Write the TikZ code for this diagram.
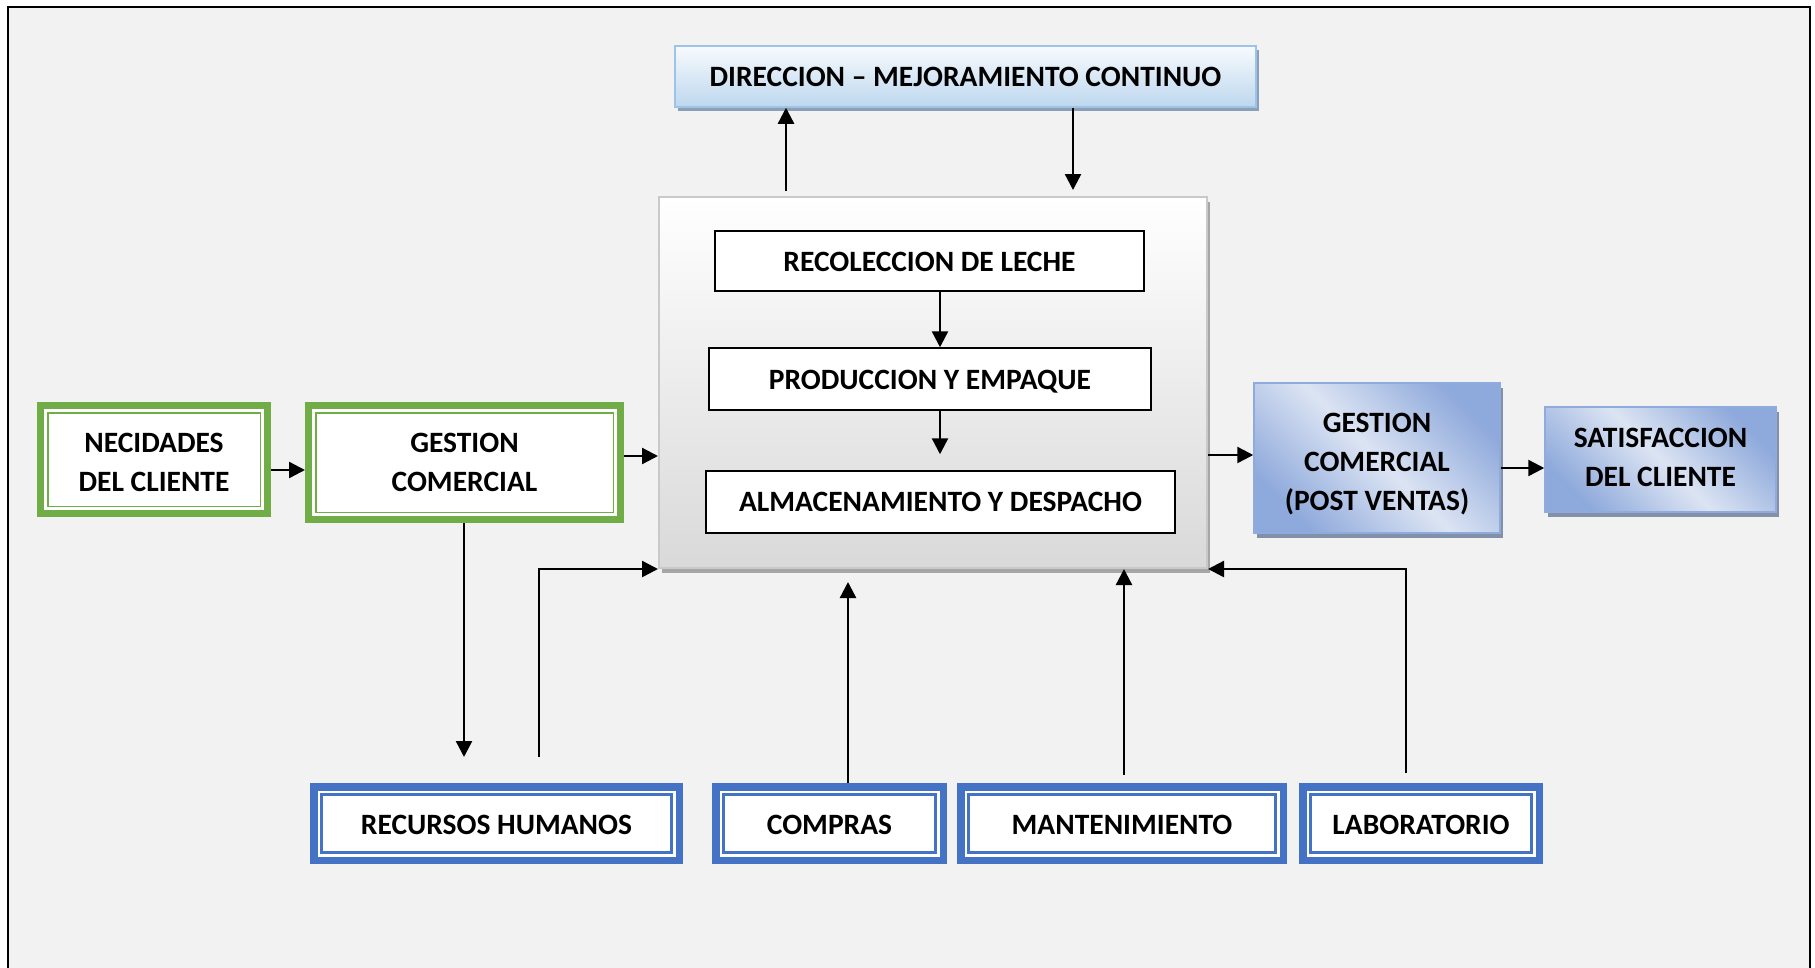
\documentclass[tikz,border=0pt]{standalone}
\usepackage{fontspec}
\setmainfont{Carlito}
\usetikzlibrary{arrows.meta,shadows}

\definecolor{frameBg}{HTML}{F2F2F2}
\definecolor{gC}{HTML}{70AD47}
\definecolor{bC}{HTML}{4472C4}
\definecolor{dirTop}{HTML}{F7FAFD}
\definecolor{dirBot}{HTML}{BDD7EE}
\definecolor{dirLine}{HTML}{9DC3E6}
\definecolor{dirShadow}{HTML}{8C9FB8}
\definecolor{coreBot}{HTML}{D9D9D9}
\definecolor{coreLine}{HTML}{C9C9C9}
\definecolor{coreShadow}{HTML}{A6A6A6}
\definecolor{postLight}{HTML}{DCE4F3}
\definecolor{postDark}{HTML}{8EA9DB}
\definecolor{postLine}{HTML}{8FAADC}
\definecolor{postShadow}{HTML}{8391A8}

% light band along the main diagonal, darker towards two corners
\pgfdeclarehorizontalshading{postband}{100bp}{color(0bp)=(postDark); color(25bp)=(postDark); color(50bp)=(postLight); color(75bp)=(postDark); color(100bp)=(postDark)}

\tikzset{
  lbl/.style={font=\fontsize{29.5}{39}\selectfont\bfseries, align=center, inner sep=0pt},
  % places the last baseline #1/2 below the node centre
  tbase/.style={text height=#1, text depth=0pt},
  greenbox/.style={lbl, fill=white, draw=gC, line width=7pt,
    path picture={\draw[gC, line width=1.5pt]
      ([shift={(7.25pt,-7.25pt)}]path picture bounding box.north west) rectangle
      ([shift={(-7.25pt,7.25pt)}]path picture bounding box.south east);}},
  bluebox/.style={lbl, tbase=22pt, fill=white, draw=bC, line width=7.5pt,
    path picture={\draw[bC, line width=2.5pt]
      ([shift={(7.6pt,-7.6pt)}]path picture bounding box.north west) rectangle
      ([shift={(-7.6pt,7.6pt)}]path picture bounding box.south east);}},
  dirbox/.style={lbl, draw=dirLine, line width=1.5pt, top color=dirTop, bottom color=dirBot,
    general shadow={fill=dirShadow, shadow xshift=3pt, shadow yshift=-4pt}},
  corebox/.style={draw=coreLine, line width=2pt, top color=white, bottom color=coreBot,
    general shadow={fill=coreShadow, shadow xshift=3pt, shadow yshift=-5pt}},
  procbox/.style={lbl, fill=white, draw=black, line width=1.5pt},
  postbox/.style={lbl, draw=postLine, line width=1.5pt, shading=postband, shading angle=45,
    general shadow={fill=postShadow, shadow xshift=3pt, shadow yshift=-5pt}},
  arr/.style={-{Triangle[length=16pt,width=16pt]}, line width=2.4pt, black},
}

\begin{document}
\begin{tikzpicture}[x=1pt,y=-1pt]
\useasboundingbox (0,0) rectangle (1815,967);
% page frame
\fill[frameBg] (8,7) rectangle (1810,975);
\draw[black, line width=2pt] (8,975) -- (8,7) -- (1810,7) -- (1810,975);

% management
\node[dirbox, tbase=20pt, minimum width=581pt, minimum height=61pt] (dir) at (965.5,76.5) {DIRECCION – MEJORAMIENTO CONTINUO};

% core process
\node[corebox, minimum width=548pt, minimum height=371pt] (cent) at (933,382.5) {};
\node[procbox, tbase=21pt, minimum width=429pt, minimum height=60pt] (rec) at (929.5,261) {RECOLECCION DE LECHE};
\node[procbox, tbase=20pt, minimum width=442pt, minimum height=62pt] (prod) at (930,379) {PRODUCCION Y EMPAQUE};
\node[procbox, tbase=19.5pt, minimum width=469pt, minimum height=62pt] (alm) at (940.5,502) {ALMACENAMIENTO Y DESPACHO};

% customer side, input
\node[greenbox, tbase=63pt, minimum width=227pt, minimum height=108pt] (nec) at (154,459.5) {NECIDADES\\DEL CLIENTE};
\node[greenbox, tbase=58pt, minimum width=312pt, minimum height=114pt] (gc) at (464.5,462.5) {GESTION\\COMERCIAL};

% customer side, output
\node[postbox, tbase=104pt, minimum width=246pt, minimum height=150pt] (gp) at (1377,458) {GESTION\\COMERCIAL\\(POST VENTAS)};
\node[postbox, tbase=54pt, minimum width=231pt, minimum height=105pt] (sat) at (1660.5,459.5) {SATISFACCION\\DEL CLIENTE};

% support processes
\node[bluebox, minimum width=365.5pt, minimum height=73.5pt] (rh) at (496.5,823.5) {RECURSOS HUMANOS};
\node[bluebox, minimum width=227.5pt, minimum height=73.5pt] (comp) at (829.5,823.5) {COMPRAS};
\node[bluebox, minimum width=322.5pt, minimum height=73.5pt] (mant) at (1122,823.5) {MANTENIMIENTO};
\node[bluebox, minimum width=236.5pt, minimum height=73.5pt] (lab) at (1421,823.5) {LABORATORIO};

% main flow
\draw[arr] (nec.east |- 0,470) -- (gc.west |- 0,470);
\draw[arr] (gc.east |- 0,456) -- (cent.west |- 0,456);
\draw[arr] (cent.east |- 0,455) -- (gp.west |- 0,455);
\draw[arr] (gp.east |- 0,468) -- (sat.west |- 0,468);

% inside the core process
\draw[arr] (rec.south -| 940,0) -- (prod.north -| 940,0);
\draw[arr, shorten >=16pt] (prod.south -| 940,0) -- (alm.north -| 940,0);

% management loop
\draw[arr, shorten <=5pt] (cent.north -| 786,0) -- (dir.south -| 786,0);
\draw[arr, shorten >=6pt] (dir.south -| 1073,0) -- (cent.north -| 1073,0);

% support links
\draw[arr, shorten >=26pt] (gc.south -| 464,0) -- (rh.north -| 464,0);
\draw[arr, shorten <=26pt] (rh.north -| 539,0) |- (cent.south west);
\draw[arr, shorten >=13pt] (comp.north -| 848,0) -- (cent.south -| 848,0);
\draw[arr, shorten <=8pt] (mant.north -| 1124,0) -- (cent.south -| 1124,0);
\draw[arr, shorten <=10pt] (lab.north -| 1406,0) |- (cent.south east);
\end{tikzpicture}
\end{document}
